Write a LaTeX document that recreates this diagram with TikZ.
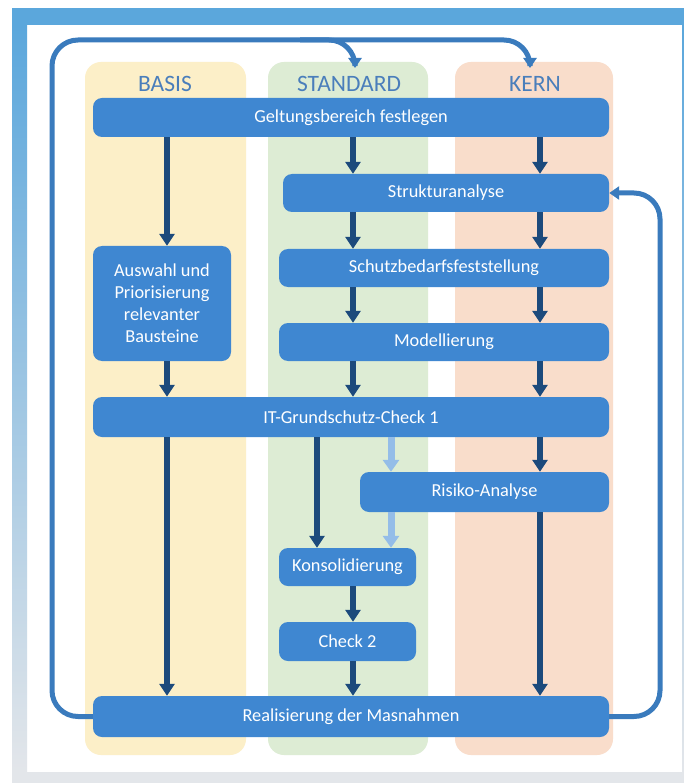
\documentclass[tikz,border=0pt]{standalone}
\usepackage{fontspec}
\setmainfont{Carlito}
\usetikzlibrary{arrows.meta}
\definecolor{frameblue}{HTML}{5BA7DC}
\definecolor{framegray}{HTML}{E3E6EA}
\definecolor{boxblue}{HTML}{3F87D1}
\definecolor{darkarrow}{HTML}{1C4A7C}
\definecolor{loopblue}{HTML}{3A7BBD}
\definecolor{lightarrow}{HTML}{94BDE8}
\definecolor{colyellow}{HTML}{FCEFC8}
\definecolor{colgreen}{HTML}{DDECD4}
\definecolor{colorange}{HTML}{F9DDCB}
\definecolor{titleblue}{HTML}{4A7EBB}
\tikzset{
  colbg/.style={rounded corners=16pt},
  coltitle/.style={font=\fontsize{23.5}{26}\selectfont, text=titleblue},
  pbox/.style={fill=boxblue, rounded corners=9pt, text=white, align=center,
    font=\fontsize{18.3}{22}\selectfont, inner sep=0pt},
  darr/.style={draw=darkarrow, line width=6pt, -{Triangle[width=15pt,length=12pt]}},
  larr/.style={draw=lightarrow, line width=7pt, -{Triangle[width=16pt,length=12pt]}},
  looparr/.style={draw=loopblue, line width=5pt, rounded corners=26pt, -{Triangle[width=13pt,length=10pt]}},
}
\begin{document}
\begin{tikzpicture}[x=1pt,y=-1pt]
\useasboundingbox (0,0) rectangle (684,783);
\fill[white] (0,0) rectangle (684,783);
% frame
\fill[frameblue] (12,8) rectangle (684,25);
\shade[top color=frameblue, bottom color=framegray] (12,25) rectangle (27,772);
\shade[top color=frameblue, bottom color=framegray] (682,25) rectangle (684,772);
\fill[framegray] (12,772) rectangle (684,783);
% columns
\fill[colyellow, colbg] (85,62) rectangle (246,755);
\fill[colgreen, colbg] (268,62) rectangle (428,755);
\fill[colorange, colbg] (455,62) rectangle (613,755);
\node[coltitle] (tbasis) at (165,84) {BASIS};
\node[coltitle] (tstandard) at (349,84) {STANDARD};
\node[coltitle] (tkern) at (535,84) {KERN};
% column x coordinates
\coordinate (cB) at (167,0);
\coordinate (cS) at (353,0);
\coordinate (cK) at (540,0);
\coordinate (cKo) at (317,0);
\coordinate (cL) at (391,0);
% boxes
\node[pbox, minimum width=516pt, minimum height=39pt] (geltung) at (351,117.5) {Geltungsbereich festlegen};
\node[pbox, minimum width=326pt, minimum height=38pt] (struktur) at (446,193) {Strukturanalyse};
\node[pbox, minimum width=330pt, minimum height=38pt] (schutz) at (444,268) {Schutzbedarfsfeststellung};
\node[pbox, minimum width=330pt, minimum height=38pt] (modell) at (444,342) {Modellierung};
\node[pbox, minimum width=138pt, minimum height=115pt] (auswahl) at (162,303.5) {Auswahl und\\Priorisierung\\relevanter\\Bausteine};
\node[pbox, minimum width=516pt, minimum height=40pt] (check1) at (351,417) {IT-Grundschutz-Check 1};
\node[pbox, minimum width=249pt, minimum height=40pt] (risiko) at (484.5,492) {Risiko-Analyse};
\node[pbox, minimum width=137pt, minimum height=38pt] (konsol) at (347.5,567) {Konsolidierung};
\node[pbox, minimum width=137pt, minimum height=39pt] (check2) at (347.5,641.5) {Check 2};
\node[pbox, minimum width=516pt, minimum height=41pt] (real) at (351,716.5) {Realisierung der Masnahmen};
% BASIS arrows
\draw[darr] (geltung.south -| cB) -- (auswahl.north -| cB);
\draw[darr] (auswahl.south -| cB) -- (check1.north -| cB);
\draw[darr] (check1.south -| cB) -- (real.north -| cB);
% STANDARD arrows
\draw[darr] (geltung.south -| cS) -- (struktur.north -| cS);
\draw[darr] (struktur.south -| cS) -- (schutz.north -| cS);
\draw[darr] (schutz.south -| cS) -- (modell.north -| cS);
\draw[darr] (modell.south -| cS) -- (check1.north -| cS);
\draw[darr] (check1.south -| cKo) -- (konsol.north -| cKo);
\draw[darr] (konsol.south -| cS) -- (check2.north -| cS);
\draw[darr] (check2.south -| cS) -- (real.north -| cS);
% KERN arrows
\draw[darr] (geltung.south -| cK) -- (struktur.north -| cK);
\draw[darr] (struktur.south -| cK) -- (schutz.north -| cK);
\draw[darr] (schutz.south -| cK) -- (modell.north -| cK);
\draw[darr] (modell.south -| cK) -- (check1.north -| cK);
\draw[darr] (check1.south -| cK) -- (risiko.north -| cK);
\draw[darr] (risiko.south -| cK) -- (real.north -| cK);
% light arrows
\draw[larr] (check1.south -| cL) -- (risiko.north -| cL);
\draw[larr] (risiko.south -| cL) -- (konsol.north -| cL);
% loops
\coordinate (branch) at (300,40);
\coordinate (sTop) at (355,68);
\coordinate (kTop) at (530,68);
\draw[looparr] (real.west) -- (52,716.5) -- (52,40) -- (530,40) -- (kTop);
\draw[looparr] (branch) -- (355,40) -- (sTop);
\draw[looparr] (real.east) -- (660,716.5) -- (660,193) -- (struktur.east);
\end{tikzpicture}
\end{document}
